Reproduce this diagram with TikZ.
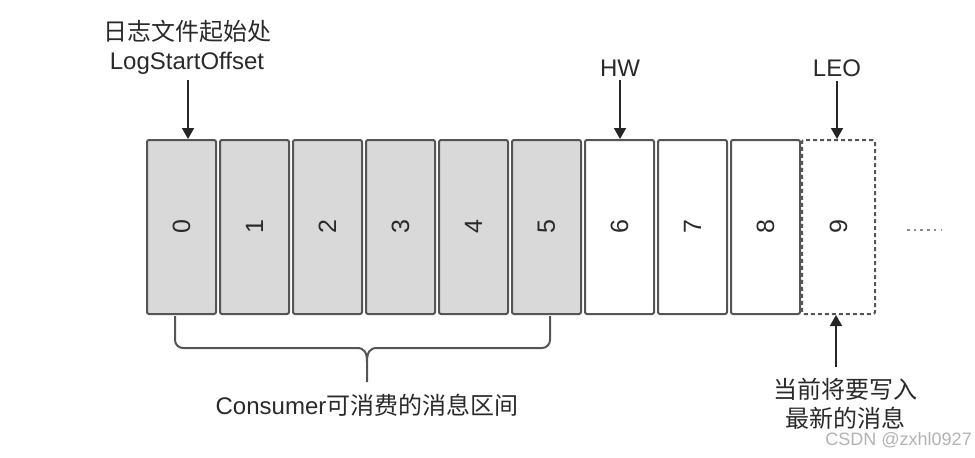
\documentclass[tikz,border=0pt]{standalone}
\usepackage{fontspec}
\setmainfont{Liberation Sans}
\newfontfamily\cjk{Noto Sans CJK SC}
\usetikzlibrary{arrows.meta}
\definecolor{edgeg}{HTML}{555555}
\definecolor{fillg}{HTML}{D9D9D9}
\definecolor{txt}{HTML}{2A2A2A}
\tikzset{
  cellbox/.style={draw=edgeg, line width=2pt, rounded corners=2pt, minimum width=69pt, minimum height=174pt, inner sep=0pt, text=txt, font=\fontsize{25}{28}\selectfont},
  usedcell/.style={cellbox, fill=fillg},
  freecell/.style={cellbox, fill=white},
  nextcell/.style={cellbox, fill=white, dashed, dash pattern=on 4pt off 3pt, minimum width=73pt},
  lbl/.style={text=txt, font=\fontsize{24}{29}\selectfont, align=center, inner sep=2pt},
  ptr/.style={draw=black!85, line width=1.8pt, -{Triangle[length=11pt,width=12pt]}},
  bracel/.style={draw=edgeg, line width=2pt}
}
\begin{document}
\begin{tikzpicture}[x=1pt,y=-1pt]
\useasboundingbox (0,0) rectangle (975,458);
% cells
\foreach \i in {0,...,5} {
  \node[usedcell] (c\i) at ({181.5+73*\i},227) {\rotatebox{90}{\i}};
}
\foreach \i in {6,7,8} {
  \node[freecell] (c\i) at ({181.5+73*\i},227) {\rotatebox{90}{\i}};
}
\node[nextcell] (c9) at (838.5,227) {\rotatebox{90}{9}};
\coordinate (dl) at (907,230);
\coordinate (dr) at (941,230);
\draw[draw=black!45, line width=2pt, dash pattern=on 2.5pt off 4.2pt] (dl) -- (dr);

% top labels
\node[lbl] (lso) at (187,47) {{\cjk 日志文件起始处}\\LogStartOffset};
\coordinate (lsoa) at (188,80);
\draw[ptr] (lsoa) -- (lsoa |- c0.north);
\node[lbl] (hw) at (620,68) {HW};
\draw[ptr] (hw.south) ++(0,2) coordinate (hwa) -- (hwa |- c6.north);
\node[lbl] (leo) at (837,68) {LEO};
\draw[ptr] (leo.south) ++(0,2) coordinate (leoa) -- (leoa |- c9.north);

% bottom-right label
\node[lbl] (newmsg) at (845,404) {{\cjk 当前将要写入}\\{\cjk 最新的消息}};
\coordinate (nma) at (836,367);
\draw[ptr] (nma) -- (nma |- c9.south);

% brace
\coordinate (bl) at (175,316);
\coordinate (br) at (550,316);
\coordinate (bm) at (367,382);
\draw[bracel, rounded corners=8pt] (bl) -- (175,348) -- (357,348);
\draw[bracel, rounded corners=8pt] (br) -- (550,348) -- (377,348);
\draw[bracel] (357,348) .. controls (364,348) and (367,352) .. (367,362) -- (bm);
\draw[bracel] (377,348) .. controls (370,348) and (367,352) .. (367,362);
\node[lbl] (cons) at (367,405) {Consumer{\cjk 可消费的消息区间}};

% watermark
\node[text=black!30, font=\fontsize{18}{20}\selectfont, anchor=east, inner sep=0pt] (wm) at (972,440) {CSDN @zxhl0927};
\end{tikzpicture}
\end{document}
